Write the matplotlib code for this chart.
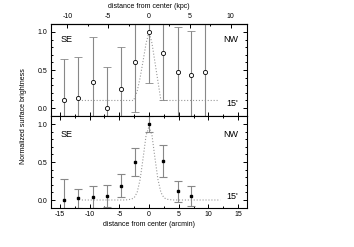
import matplotlib
matplotlib.use("Agg")
import matplotlib.pyplot as plt
from matplotlib.ticker import MultipleLocator

plt.rcParams['font.family'] = ['Liberation Sans', 'DejaVu Sans']
plt.rcParams['axes.unicode_minus'] = False

# data (arcmin)
top_x = [-14.3, -11.9, -9.5, -7.1, -4.8, -2.4, 0.0, 2.4, 4.8, 7.1, 9.5]
top_y = [0.10, 0.13, 0.34, 0.0, 0.25, 0.61, 1.0, 0.73, 0.47, 0.44, 0.48]
top_err = [0.55, 0.54, 0.59, 0.54, 0.55, 0.66, 0.675, 0.63, 0.60, 0.57, 0.70]

bot_x = [-14.3, -11.9, -9.5, -7.1, -4.8, -2.4, 0.0, 2.4, 4.8, 7.1]
bot_y = [0.005, 0.02, 0.04, 0.057, 0.19, 0.50, 1.0, 0.51, 0.115, 0.057]
bot_err = [0.27, 0.13, 0.14, 0.145, 0.15, 0.19, 0.10, 0.21, 0.14, 0.13]

# dotted model curves
top_mx = [-11.3, -2.6, -2.0, -1.5, -1.0, -0.5, 0.0, 0.5, 1.0, 1.5, 2.0, 11.7]
top_my = [0.10, 0.10, 0.22, 0.40, 0.62, 0.85, 1.0, 0.85, 0.60, 0.35, 0.10, 0.10]
bot_mx = [-11.3, -4.0, -3.0, -2.5, -2.0, -1.5, -1.0, -0.5, 0.0, 0.5, 1.0, 1.5, 2.0, 2.5, 3.0, 4.0, 12.0]
bot_my = [0.0, 0.0, 0.01, 0.03, 0.10, 0.27, 0.55, 0.85, 0.97, 0.85, 0.55, 0.27, 0.10, 0.03, 0.01, 0.0, 0.0]

KPC_PER_ARCMIN = 0.727

fig = plt.figure(figsize=(3.54, 2.47), dpi=100)
ax1 = fig.add_axes([0.144, 0.530, 0.554, 0.373])
ax2 = fig.add_axes([0.144, 0.158, 0.554, 0.372])

ecol = '#888888'
fs = 5

for ax in (ax1, ax2):
    ax.set_xlim(-16.5, 16.5)
    ax.set_ylim(-0.105, 1.105)
    ax.xaxis.set_major_locator(MultipleLocator(5))
    ax.xaxis.set_minor_locator(MultipleLocator(2.5))
    ax.yaxis.set_major_locator(MultipleLocator(0.5))
    ax.yaxis.set_minor_locator(MultipleLocator(0.1))
    ax.tick_params(which='both', direction='in', top=True, right=True,
                   labelsize=fs, width=0.7, pad=2.5)
    ax.tick_params(which='major', length=3)
    ax.tick_params(which='minor', length=1.5)
    for s in ax.spines.values():
        s.set_linewidth(0.8)

ax1.plot(top_mx, top_my, ls=':', color='#999999', lw=0.8)
ax1.errorbar(top_x, top_y, yerr=top_err, fmt='o', mfc='white', mec='black',
             ms=3, mew=0.6, ecolor=ecol, elinewidth=0.8, capsize=3, capthick=0.8)
ax1.tick_params(axis='x', which='both', top=False, labelbottom=False)

ax2.plot(bot_mx, bot_my, ls=':', color='#999999', lw=0.8)
ax2.errorbar(bot_x, bot_y, yerr=bot_err, fmt='s', mfc='black', mec='black',
             ms=1.8, ecolor=ecol, elinewidth=0.8, capsize=3, capthick=0.8)
ax2.set_xlabel('distance from center (arcmin)', fontsize=fs, labelpad=1.5)

sec = ax1.secondary_xaxis('top', functions=(lambda a: a * KPC_PER_ARCMIN,
                                            lambda k: k / KPC_PER_ARCMIN))
sec.xaxis.set_major_locator(MultipleLocator(5))
sec.xaxis.set_minor_locator(MultipleLocator(2.5))
sec.tick_params(which='both', direction='in', labelsize=fs, width=0.7, pad=2.5)
sec.tick_params(which='major', length=3)
sec.tick_params(which='minor', length=1.5)
sec.set_xlabel('distance from center (kpc)', fontsize=fs, labelpad=4)

for ax, ys, yq in ((ax1, 0.83, 0.14), (ax2, 0.80, 0.12)):
    ax.text(0.05, ys, 'SE', transform=ax.transAxes, fontsize=6.5, va='center', ha='left')
    ax.text(0.955, ys, 'NW', transform=ax.transAxes, fontsize=6.5, va='center', ha='right')
    ax.text(0.955, yq, "15'", transform=ax.transAxes, fontsize=6.5, va='center', ha='right')

fig.text(0.065, 0.53, 'Normalized surface brightness', rotation=90,
         fontsize=fs, va='center', ha='center')

fig.savefig('out.png', dpi=100)
